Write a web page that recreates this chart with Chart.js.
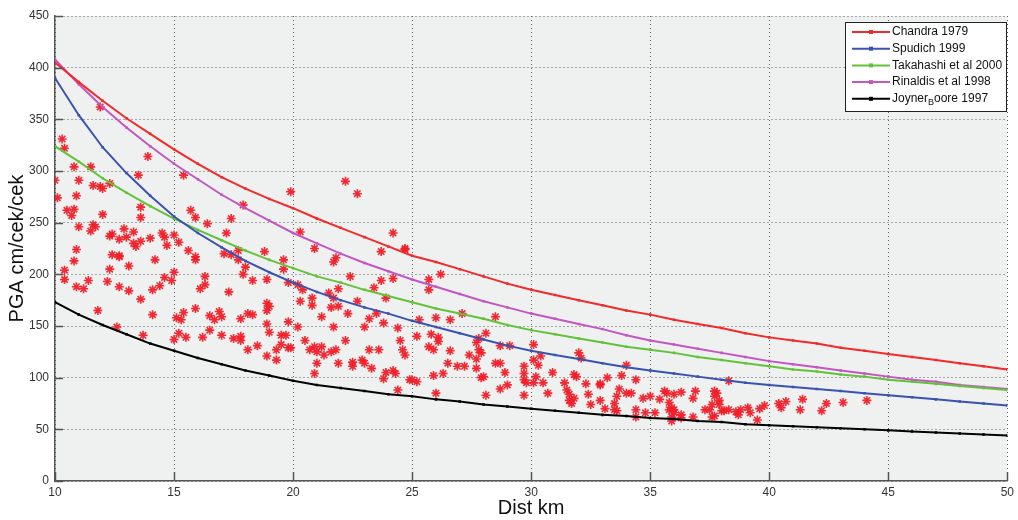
<!DOCTYPE html>
<html>
<head>
<meta charset="utf-8">
<title>PGA vs distance</title>
<script src="https://cdn.jsdelivr.net/npm/chart.js@4.4.1/dist/chart.umd.min.js"></script>
<style>
  html, body { margin: 0; padding: 0; background: #fff; }
  #wrap { width: 1018px; height: 520px; position: relative; }
</style>
</head>
<body>
<div id="wrap"><canvas id="pga" width="1018" height="520"></canvas></div>
<script>
'use strict';

/* ---- data ---- */
var DIST = [10, 11, 12, 13, 14, 15, 16, 17, 18, 19, 20, 21, 22, 23, 24, 25, 26, 27, 28, 29,
            30, 31, 32, 33, 34, 35, 36, 37, 38, 39, 40, 41, 42, 43, 44, 45, 46, 47, 48, 49, 50];

var CHANDRA = [405, 386, 368, 351, 336, 321, 307, 294, 283, 273, 264, 254, 245, 236, 227, 218, 212, 205, 198, 191,
               185, 180, 175, 170, 165, 161, 156, 152, 148, 143, 139, 136, 133, 129, 126, 123, 120, 117, 114, 111, 108];
var SPUDICH = [390, 354, 323, 298, 276, 256, 240, 226, 213, 202, 192, 183, 175, 168, 162, 155, 149, 143, 137, 131,
               126, 122, 118, 114, 110, 107, 104, 101, 98, 95, 93, 91, 89, 87, 85, 83, 81, 79, 77, 75, 73];
var TAKAHASHI = [324, 309, 293, 279, 266, 254, 243, 233, 223, 214, 206, 198, 192, 185, 179, 173, 167, 162, 157, 151,
                 146, 142, 138, 134, 130, 127, 124, 120, 117, 114, 111, 108, 106, 103, 101, 98, 96, 94, 92, 90, 88];
var RINALDIS = [408, 384, 362, 342, 324, 307, 292, 277, 264, 252, 240, 230, 220, 211, 203, 195, 188, 181, 174, 168,
                162, 157, 152, 147, 141, 136, 132, 128, 124, 120, 116, 113, 110, 107, 104, 101, 98, 96, 93, 91, 89];
var JOYNER = [173, 161, 151, 142, 133, 126, 119, 113, 107, 102, 97, 93, 90, 87, 84, 82, 79, 77, 74, 72,
              70, 68, 66, 64, 63, 61, 60, 58, 57, 55, 54, 53, 52, 51, 50, 49, 48, 47, 46, 45, 44];

var SERIES_NAMES = ['Chandra 1979', 'Spudich 1999', 'Takahashi et al 2000', 'Rinaldis et al 1998', 'Joyner_B oore 1997'];
var SERIES_COLORS = ['#f22a2a', '#3a52b0', '#62c23a', '#c257c2', '#000000'];

/* recorded events (distance km, PGA cm/s^2) */
var OBS_DIST = [
  10.3, 10.4, 10.0, 10.8, 11.5, 13.9, 11.0, 10.1, 10.9, 11.6, 11.9, 12.0, 12.3, 13.5, 15.4, 10.5, 10.8, 10.7, 12.0, 13.6,
  13.6, 15.7, 15.9, 11.0, 11.6, 11.7, 11.5, 12.4, 12.3, 12.9, 13.3, 12.7, 13.0, 13.3, 13.4, 13.6, 14.0, 14.5, 14.6, 15.0,
  14.7, 15.2, 10.9, 10.8, 12.4, 12.7, 12.7, 13.1, 12.3, 14.2, 15.6, 15.9, 15.9, 10.4, 10.4, 10.9, 11.2, 11.4, 12.2, 12.7,
  13.1, 13.6, 14.1, 14.4, 14.6, 14.9, 15.0, 16.3, 16.1, 16.3, 11.8, 14.1, 15.1, 15.4, 15.3, 15.9, 12.6, 13.7, 15.2, 15.5,
  15.0, 16.2, 11.9,
  22.2, 22.7, 19.9, 17.9, 16.4, 17.4, 17.2, 20.3, 24.2, 18.8, 17.7, 17.1, 17.4, 17.7, 18.0, 17.9, 18.3, 18.9, 20.9, 19.6,
  19.6, 21.8, 21.7, 23.7, 24.7, 22.4, 23.7, 24.2, 23.4, 23.9, 17.3, 19.8, 20.2, 20.4, 20.3, 20.8, 20.8, 21.5, 21.7, 21.9,
  21.6, 21.9, 22.3, 22.7, 18.9, 19.0, 18.9, 16.5, 16.9, 17.0, 16.7, 17.8, 18.1, 18.3, 18.9, 19.8, 16.5, 17.0, 17.5, 17.8,
  17.8, 18.5, 19.0, 19.5, 19.7, 19.5, 19.8, 19.9, 19.3, 18.9, 19.3, 18.1, 20.2, 20.5, 20.7, 20.9, 21.0, 21.2, 21.3, 21.6,
  21.8, 21.0, 20.9, 21.7, 21.2, 21.9, 22.2, 22.5, 22.5, 22.9, 23.0, 23.2, 23.3, 23.6, 24.5, 24.6, 24.7, 23.0, 23.2, 23.5,
  23.8, 24.4, 23.9, 24.2, 24.3, 23.8, 24.4, 24.9,
  24.7, 26.2, 25.7, 25.7, 25.3, 26.0, 26.6, 27.1, 28.5, 25.2, 25.8, 26.1, 26.1, 25.7, 25.9, 26.6, 27.7, 27.8, 28.1, 27.8,
  27.9, 27.4, 27.2, 26.9, 26.5, 27.7, 27.7, 27.9, 28.5, 28.7, 28.7, 29.1, 28.9, 25.9, 26.3, 25.0, 25.2, 26.0, 28.0, 28.1,
  28.7, 29.0, 29.7, 29.7, 29.7, 29.8, 30.1, 30.1, 30.1, 30.4, 30.3, 29.7, 30.2, 30.5, 30.7, 30.9, 32.0, 32.1, 31.8, 31.9,
  31.4, 31.5, 31.6, 31.6, 31.8, 31.7, 32.3, 32.4, 32.5, 32.9, 32.9,
  34.0, 32.9, 33.2, 33.8, 34.4, 33.7, 34.0, 34.2, 33.6, 33.5, 33.1, 33.5, 33.6, 34.4, 34.4, 34.7, 35.0, 35.4, 35.6, 35.7,
  36.0, 36.3, 35.8, 35.8, 35.9, 36.0, 36.0, 35.9, 35.9, 35.2, 34.8, 36.3, 36.3, 36.8, 36.9, 36.8, 37.7, 37.8, 37.7, 37.9,
  37.9, 38.0, 37.6, 37.5, 37.3, 37.7, 37.6, 38.1, 38.3, 38.3, 38.6, 38.7, 38.8, 39.1, 39.2, 39.5, 39.6, 39.8, 40.4, 40.5,
  40.7, 41.4, 41.3, 42.2, 42.4, 43.1, 44.1
];
var OBS_PGA = [
  331, 322, 291, 304, 304, 314, 291, 274, 276, 286, 285, 283, 288, 296, 296, 262, 263, 257, 258, 265,
  255, 262, 255, 246, 248, 246, 242, 239, 237, 244, 241, 234, 236, 230, 227, 232, 235, 240, 236, 238,
  228, 231, 224, 213, 219, 218, 217, 208, 205, 214, 223, 217, 214, 204, 195, 188, 186, 194, 193, 188,
  184, 176, 185, 189, 197, 194, 202, 198, 186, 190, 165, 161, 158, 163, 156, 167, 149, 141, 143, 139,
  137, 139, 362,
  290, 278, 280, 267, 249, 254, 240, 241, 240, 222, 223, 220, 219, 214, 207, 200, 194, 195, 225, 214,
  205, 216, 212, 222, 224, 198, 194, 196, 187, 177, 183, 192, 190, 185, 174, 177, 170, 182, 177, 186,
  168, 169, 162, 174, 172, 169, 165, 160, 164, 159, 156, 157, 162, 161, 152, 154, 146, 141, 138, 140,
  136, 131, 144, 141, 141, 132, 129, 129, 127, 121, 117, 127, 149, 136, 127, 130, 125, 130, 122, 125,
  127, 114, 104, 149, 159, 114, 136, 115, 111, 117, 114, 127, 109, 127, 136, 127, 122, 149, 157, 162,
  153, 148, 105, 107, 104, 99, 88, 98,
  225, 200, 195, 185, 156, 158, 156, 162, 159, 140, 142, 139, 135, 130, 127, 126, 134, 138, 143, 127,
  124, 122, 111, 111, 114, 118, 109, 100, 114, 114, 131, 131, 105, 102, 104, 98, 96, 85, 101, 83,
  89, 93, 111, 104, 98, 95, 95, 132, 117, 121, 112, 83, 101, 95, 85, 105, 124, 119, 103, 101,
  95, 88, 84, 78, 80, 75, 94, 84, 74, 78, 94,
  112, 93, 100, 102, 98, 89, 85, 85, 82, 75, 70, 69, 68, 69, 62, 80, 82, 79, 87, 85,
  84, 86, 76, 69, 71, 66, 69, 62, 58, 66, 66, 64, 61, 62, 87, 80, 87, 85, 82, 78,
  74, 68, 74, 69, 69, 63, 62, 68, 69, 97, 67, 64, 69, 71, 66, 59, 70, 73, 75, 71,
  77, 79, 69, 68, 75, 76, 78
];

var X_TICKS = [10, 15, 20, 25, 30, 35, 40, 45, 50];
var Y_TICKS = [0, 50, 100, 150, 200, 250, 300, 350, 400, 450];

/* ---- helpers ---- */
function pairs(xs, ys) {
  return xs.map(function (x, i) { return { x: x, y: ys[i] }; });
}

function curveDataset(idx, values) {
  var c = SERIES_COLORS[idx];
  return {
    type: 'line',
    label: SERIES_NAMES[idx],
    data: pairs(DIST, values),
    borderColor: c,
    backgroundColor: c,
    borderWidth: 2,
    pointStyle: 'rect',
    pointRadius: 1.8,
    pointBorderWidth: 0,
    pointBackgroundColor: c,
    tension: 0,
    fill: false,
    order: 1
  };
}

/* plot background + inward tick marks */
var frame = {
  id: 'frame',
  beforeDraw: function (chart) {
    var a = chart.chartArea, ctx = chart.ctx;
    ctx.save();
    ctx.fillStyle = '#eff0f0';
    ctx.fillRect(a.left, a.top, a.right - a.left, a.bottom - a.top);
    ctx.restore();
  },
  afterDatasetsDraw: function (chart) {
    var a = chart.chartArea, ctx = chart.ctx;
    var xs = chart.scales.x, ys = chart.scales.y;
    ctx.save();
    ctx.strokeStyle = '#555';
    ctx.lineWidth = 1.5;
    ctx.beginPath();
    Y_TICKS.forEach(function (v) {
      var py = Math.round(ys.getPixelForValue(v)) + 0.5;
      ctx.moveTo(a.left, py); ctx.lineTo(a.left + 8, py);
    });
    X_TICKS.forEach(function (v) {
      var px = Math.round(xs.getPixelForValue(v)) + 0.5;
      ctx.moveTo(px, a.bottom); ctx.lineTo(px, a.bottom - 9);
    });
    ctx.stroke();
    ctx.restore();
  }
};

/* legend box in the upper right corner, like the original figure */
var boxLegend = {
  id: 'boxLegend',
  afterDraw: function (chart) {
    var ctx = chart.ctx;
    var x0 = 845, y0 = 22, w = 161, h = 89, rowH = 16.7;
    ctx.save();
    ctx.fillStyle = '#ffffff';
    ctx.fillRect(x0, y0, w, h);
    ctx.strokeStyle = '#222';
    ctx.lineWidth = 1;
    ctx.strokeRect(x0 + 0.5, y0 + 0.5, w, h);
    ctx.font = '12px "Liberation Sans", Arial, sans-serif';
    ctx.textBaseline = 'middle';
    SERIES_NAMES.forEach(function (name, i) {
      var y = y0 + 10 + i * rowH;
      var c = SERIES_COLORS[i];
      ctx.strokeStyle = c;
      ctx.lineWidth = 2;
      ctx.beginPath(); ctx.moveTo(852, y); ctx.lineTo(890, y); ctx.stroke();
      ctx.fillStyle = c;
      ctx.fillRect(869, y - 2, 4, 4);
      ctx.fillStyle = '#111';
      var parts = name.split('_');
      if (parts.length === 1) {
        ctx.fillText(name, 892, y);
      } else {
        /* "Joyner_B oore" -> subscript B */
        ctx.fillText(parts[0], 892, y);
        var wx = 892 + ctx.measureText(parts[0]).width;
        ctx.font = '9px "Liberation Sans", Arial, sans-serif';
        ctx.fillText(parts[1].charAt(0), wx, y + 4);
        wx += ctx.measureText(parts[1].charAt(0)).width;
        ctx.font = '12px "Liberation Sans", Arial, sans-serif';
        ctx.fillText(parts[1].slice(2), wx, y);
      }
    });
    ctx.restore();
  }
};

var datasets = [
  curveDataset(0, CHANDRA),
  curveDataset(1, SPUDICH),
  curveDataset(2, TAKAHASHI),
  curveDataset(3, RINALDIS),
  curveDataset(4, JOYNER),
  {
    type: 'scatter',
    label: 'observed',
    data: pairs(OBS_DIST, OBS_PGA),
    pointStyle: 'star',
    pointRadius: 4.5,
    borderWidth: 1.6,
    borderColor: 'rgba(240,30,40,0.95)',
    backgroundColor: 'rgba(240,30,40,0.95)',
    order: 5
  }
];

var tickFont = { family: '"Liberation Sans", Arial, sans-serif', size: 12 };
var titleFont = { family: '"Liberation Sans", Arial, sans-serif', size: 20 };

new Chart(document.getElementById('pga'), {
  type: 'scatter',
  data: { datasets: datasets },
  plugins: [frame, boxLegend],
  options: {
    responsive: false,
    animation: false,
    devicePixelRatio: 1,
    layout: { padding: { left: 0, right: 8, top: 16, bottom: 0 } },
    plugins: {
      legend: { display: false },
      tooltip: { enabled: false }
    },
    scales: {
      x: {
        type: 'linear',
        min: 10,
        max: 50,
        afterBuildTicks: function (s) { s.ticks = X_TICKS.map(function (v) { return { value: v }; }); },
        afterFit: function (s) { s.height = 39; },
        ticks: { color: '#333', font: tickFont, padding: 4, maxRotation: 0 },
        grid: { color: '#5e5e5e', lineWidth: 1, drawTicks: false },
        border: { display: true, color: '#555', width: 1.5, dash: [1, 3] },
        title: { display: true, text: 'Dist km', color: '#111', font: titleFont, padding: { top: 0, bottom: 0 } }
      },
      y: {
        type: 'linear',
        min: 0,
        max: 450,
        afterBuildTicks: function (s) { s.ticks = Y_TICKS.map(function (v) { return { value: v }; }); },
        afterFit: function (s) { s.width = 55; },
        ticks: { color: '#333', font: tickFont, padding: 6 },
        grid: { color: '#5e5e5e', lineWidth: 1, drawTicks: false },
        border: { display: true, color: '#555', width: 1.5, dash: [1, 3] },
        title: { display: true, text: 'PGA cm/cek/cek', color: '#111', font: titleFont, padding: { top: 5, bottom: 0 } }
      }
    }
  }
});
</script>
</body>
</html>
